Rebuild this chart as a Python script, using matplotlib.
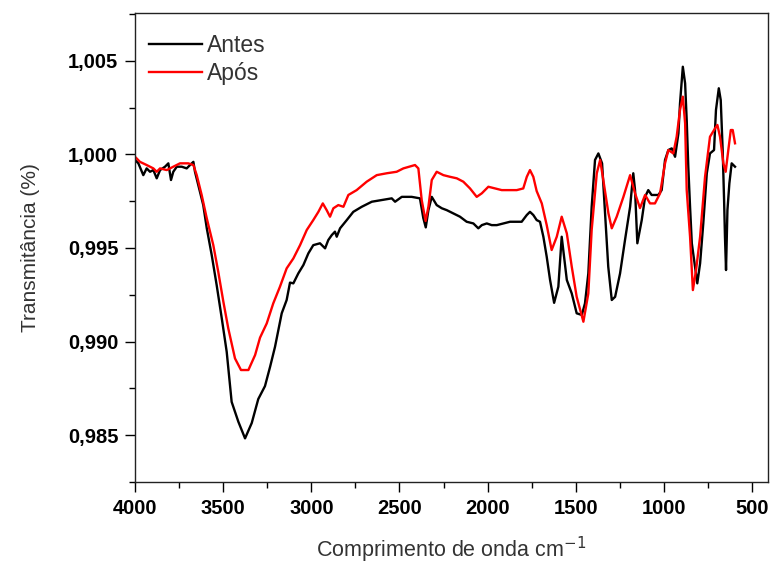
import numpy as np
import matplotlib
matplotlib.use("Agg")
import matplotlib.pyplot as plt
from matplotlib.ticker import MultipleLocator, FuncFormatter

plt.rcParams['font.family'] = ['Liberation Sans', 'DejaVu Sans']

# Antes (black)
wn_antes = [4000, 3981, 3953, 3934, 3915, 3896, 3877, 3858, 3830, 3811, 3796, 3783, 3763,
            3735, 3707, 3688, 3669, 3660, 3641, 3613, 3593, 3565, 3537, 3508, 3480, 3452,
            3414, 3376, 3338, 3301, 3263, 3234, 3206, 3168, 3140, 3121, 3102, 3074, 3045,
            3017, 2989, 2951, 2922, 2904, 2884, 2866, 2856, 2837, 2799, 2762, 2714, 2657,
            2601, 2544, 2525, 2487, 2431, 2384, 2365, 2351, 2336, 2317, 2289, 2260, 2232,
            2195, 2157, 2119, 2081, 2053, 2033, 2005, 1977, 1948, 1911, 1873, 1835, 1807,
            1778, 1760, 1741, 1722, 1703, 1684, 1665, 1646, 1623, 1599, 1580, 1571, 1551,
            1523, 1495, 1466, 1448, 1429, 1410, 1391, 1372, 1351, 1334, 1316, 1296, 1277,
            1249, 1221, 1192, 1174, 1164, 1151, 1126, 1107, 1089, 1070, 1032, 1013, 994,
            975, 956, 937, 918, 909, 893, 880, 871, 862, 852, 842, 824, 811, 795, 777, 757,
            739, 716, 705, 689, 678, 667, 659, 654, 648, 640, 629, 616, 597]
t_antes = [0.99970, 0.99952, 0.99889, 0.99925, 0.99907, 0.99916, 0.99872, 0.99916, 0.99934,
           0.99952, 0.99863, 0.99907, 0.99934, 0.99934, 0.99925, 0.99943, 0.99960, 0.99907,
           0.99836, 0.99729, 0.99605, 0.99462, 0.99302, 0.99124, 0.98945, 0.98678, 0.98572,
           0.98483, 0.98565, 0.98693, 0.98762, 0.98865, 0.98972, 0.99151, 0.99222, 0.99315,
           0.99311, 0.99364, 0.99409, 0.99471, 0.99515, 0.99525, 0.99498, 0.99542, 0.99569,
           0.99587, 0.99560, 0.99605, 0.99649, 0.99693, 0.99720, 0.99747, 0.99756, 0.99765,
           0.99747, 0.99773, 0.99773, 0.99765, 0.99660, 0.99610, 0.99702, 0.99773, 0.99729,
           0.99712, 0.99702, 0.99685, 0.99667, 0.99640, 0.99631, 0.99605, 0.99622, 0.99631,
           0.99622, 0.99622, 0.99631, 0.99640, 0.99640, 0.99640, 0.99676, 0.99693, 0.99676,
           0.99649, 0.99640, 0.99560, 0.99453, 0.99329, 0.99207, 0.99293, 0.99560, 0.99489,
           0.99329, 0.99257, 0.99151, 0.99142, 0.99204, 0.99364, 0.99720, 0.99970, 1.00005,
           0.99952, 0.99685, 0.99400, 0.99222, 0.99239, 0.99364, 0.99542, 0.99720, 0.99899,
           0.99809, 0.99525, 0.99649, 0.99773, 0.99809, 0.99783, 0.99783, 0.99809, 0.99970,
           1.00023, 1.00032, 0.99987, 1.00112, 1.00272, 1.00468, 1.00379, 1.00183, 0.99934,
           0.99720, 0.99525, 0.99400, 0.99311, 0.99418, 0.99631, 0.99899, 1.00005, 1.00023,
           1.00237, 1.00353, 1.00290, 1.00023, 0.99756, 0.99560, 0.99382, 0.99702, 0.99845,
           0.99952, 0.99934]

# Após (red)
wn_apos = [4000, 3972, 3934, 3896, 3877, 3858, 3820, 3783, 3745, 3698, 3669, 3650, 3622,
           3593, 3556, 3528, 3499, 3471, 3433, 3399, 3357, 3319, 3291, 3253, 3216, 3178,
           3140, 3102, 3064, 3026, 2989, 2960, 2935, 2913, 2894, 2875, 2847, 2818, 2790,
           2743, 2686, 2629, 2572, 2516, 2478, 2412, 2393, 2374, 2352, 2336, 2317, 2289,
           2251, 2213, 2175, 2138, 2100, 2062, 2033, 1996, 1958, 1920, 1883, 1835, 1798,
           1778, 1760, 1741, 1722, 1693, 1665, 1637, 1608, 1580, 1551, 1523, 1495, 1457,
           1429, 1410, 1381, 1362, 1344, 1315, 1296, 1268, 1230, 1192, 1164, 1136, 1107,
           1079, 1051, 1022, 994, 975, 947, 928, 909, 893, 880, 871, 852, 836, 818, 795,
           767, 739, 710, 697, 682, 663, 650, 635, 621, 610, 597]
t_apos = [0.99987, 0.99960, 0.99943, 0.99925, 0.99907, 0.99925, 0.99916, 0.99934, 0.99952,
          0.99952, 0.99943, 0.99889, 0.99783, 0.99658, 0.99515, 0.99373, 0.99213, 0.99070,
          0.98910, 0.98848, 0.98848, 0.98928, 0.99021, 0.99097, 0.99204, 0.99293, 0.99391,
          0.99444, 0.99515, 0.99596, 0.99649, 0.99693, 0.99738, 0.99702, 0.99667, 0.99712,
          0.99729, 0.99720, 0.99783, 0.99809, 0.99854, 0.99889, 0.99899, 0.99907, 0.99925,
          0.99943, 0.99925, 0.99756, 0.99644, 0.99720, 0.99863, 0.99907, 0.99889, 0.99880,
          0.99872, 0.99854, 0.99818, 0.99773, 0.99792, 0.99827, 0.99818, 0.99809, 0.99809,
          0.99809, 0.99818, 0.99880, 0.99916, 0.99880, 0.99804, 0.99738, 0.99622, 0.99489,
          0.99560, 0.99667, 0.99578, 0.99400, 0.99239, 0.99106, 0.99257, 0.99596, 0.99899,
          0.99970, 0.99863, 0.99685, 0.99605, 0.99667, 0.99773, 0.99889, 0.99792, 0.99713,
          0.99783, 0.99738, 0.99738, 0.99792, 0.99952, 1.00023, 1.00005, 1.00094, 1.00237,
          1.00308, 1.00166, 0.99809, 0.99560, 0.99275, 0.99382, 0.99560, 0.99880, 1.00094,
          1.00139, 1.00157, 1.00094, 0.99952, 0.99907, 1.00023, 1.00130, 1.00130, 1.00059]

fig = plt.figure(figsize=(7.72, 5.63), dpi=100)
ax = fig.add_axes([0.1749, 0.1439, 0.8199, 0.833])

ax.plot(wn_antes, t_antes, color='black', lw=1.7, label='Antes')
ax.plot(wn_apos, t_apos, color='red', lw=1.7, label='Após')

ax.set_xlim(4000, 410)
ax.set_ylim(0.9825, 1.00755)

ax.xaxis.set_major_locator(MultipleLocator(500))
ax.xaxis.set_minor_locator(MultipleLocator(250))
ax.yaxis.set_major_locator(MultipleLocator(0.005))
ax.yaxis.set_minor_locator(MultipleLocator(0.0025))
ax.yaxis.set_major_formatter(FuncFormatter(lambda v, p: f"{v:.3f}".replace('.', ',')))

ax.tick_params(which='both', direction='out', top=False, right=False, width=1.0)
ax.tick_params(which='major', length=7, labelsize=14.5, pad=5)
ax.tick_params(which='minor', length=4)
for lab in ax.get_xticklabels() + ax.get_yticklabels():
    lab.set_fontweight('bold')

for s in ax.spines.values():
    s.set_linewidth(1.0)
    s.set_color('#222222')

ax.set_xlabel('Comprimento de onda cm$^{-1}$', fontsize=15.5, color='#333333', labelpad=12)
ax.set_ylabel('Transmitância (%)', fontsize=15, color='#333333', labelpad=20)

leg = ax.legend(loc='upper left', bbox_to_anchor=(0.008, 0.975), frameon=False,
                fontsize=16.5, handlelength=2.3, handletextpad=0.22, labelspacing=0.22,
                borderaxespad=0.0)
for t in leg.get_texts():
    t.set_color('#333333')

fig.savefig('out.png', dpi=100)
